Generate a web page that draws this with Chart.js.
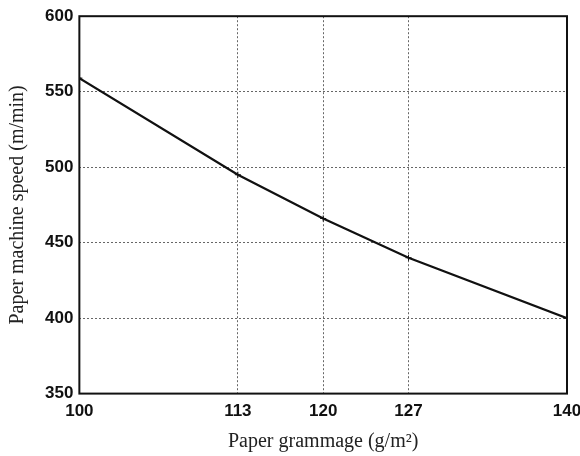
<!DOCTYPE html>
<html>
<head>
<meta charset="utf-8">
<script src="https://cdn.jsdelivr.net/npm/chart.js@4/dist/chart.umd.min.js"></script>
<style>
  html, body { margin: 0; padding: 0; background: #fff; }
  #wrap { width: 580px; height: 456px; }
</style>
</head>
<body>
<div id="wrap"><canvas id="myChart" width="580" height="456"></canvas></div>
<script>
const grammage = [100, 113, 120, 127, 140];
const speed = [559, 495, 466, 440, 400];
const xTicks = [100, 113, 120, 127, 140];
const yTicks = [350, 400, 450, 500, 550, 600];

// black box round the plot area
const frame = {
  id: "frame",
  afterDatasetsDraw(chart) {
    const { ctx, chartArea: a } = chart;
    ctx.save();
    ctx.strokeStyle = "#111";
    ctx.lineWidth = 2;
    ctx.strokeRect(a.left, a.top, a.right - a.left, a.bottom - a.top);
    ctx.restore();
  },
};

const tickFont = { family: "Liberation Sans, Arial, sans-serif", size: 17, weight: "bold" };
const titleFont = { family: "Liberation Serif, Times New Roman, serif", size: 20 };

const config = {
  type: "line",
  data: {
    datasets: [
      {
        data: grammage.map((g, i) => ({ x: g, y: speed[i] })),
        borderColor: "#111",
        borderWidth: 2.2,
        pointStyle: "cross",
        pointRadius: 3,
        pointBorderWidth: 1,
        pointBorderColor: "#111",
        tension: 0,
        fill: false,
      },
    ],
  },
  options: {
    responsive: false,
    animation: false,
    layout: { padding: { left: 6, right: 0, top: 16, bottom: 2 } },
    plugins: { legend: { display: false }, tooltip: { enabled: false } },
    scales: {
      x: {
        type: "linear",
        min: 100,
        max: 140,
        afterBuildTicks: (axis) => {
          axis.ticks = xTicks.map((v) => ({ value: v }));
        },
        // let the last label run close to the canvas edge
        afterFit: (axis) => {
          axis.paddingRight = 13;
        },
        grid: { color: "#666", lineWidth: 1, drawTicks: false },
        border: { display: false, dash: [2, 2] },
        ticks: { color: "#111", font: tickFont, padding: 8, maxRotation: 0 },
        title: {
          display: true,
          text: "Paper grammage (g/m²)",
          color: "#222",
          font: titleFont,
          padding: { top: 0, bottom: 0 },
        },
      },
      y: {
        min: 350,
        max: 600,
        afterBuildTicks: (axis) => {
          axis.ticks = yTicks.map((v) => ({ value: v }));
        },
        grid: { color: "#666", lineWidth: 1, drawTicks: false },
        border: { display: false, dash: [2, 2] },
        ticks: { color: "#111", font: tickFont, padding: 6 },
        title: {
          display: true,
          text: "Paper machine speed (m/min)",
          color: "#222",
          font: titleFont,
          padding: { top: 0, bottom: 9 },
        },
      },
    },
  },
  plugins: [frame],
};

new Chart(document.getElementById("myChart").getContext("2d"), config);
</script>
</body>
</html>
